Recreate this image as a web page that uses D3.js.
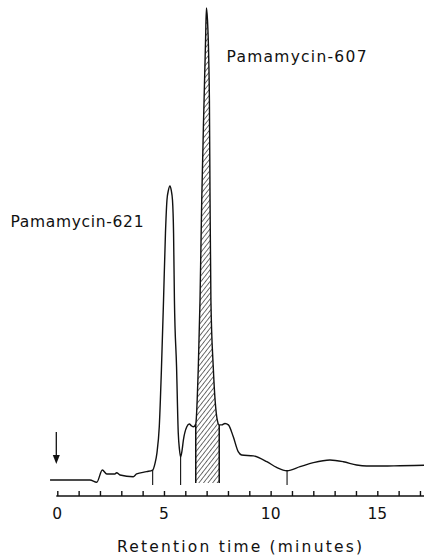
<!DOCTYPE html>
<html>
<head>
<meta charset="utf-8">
<script src="https://cdn.jsdelivr.net/npm/d3@7/dist/d3.min.js"></script>
<style>
  html, body { margin: 0; padding: 0; background: #fff; }
  svg { display: block; }
  text { font-family: "DejaVu Sans", sans-serif; fill: #111; }
</style>
</head>
<body>
<div id="chart"></div>
<script>
// Retention time (minutes) and detector signal (relative units, 0-100)
const times = [-0.34, 1.53, 1.85, 2.11, 2.32, 2.70, 2.78, 2.94, 3.56, 3.72, 4.19, 4.47, 4.58, 4.67, 4.78, 4.88, 4.98, 5.07, 5.14, 5.21, 5.28, 5.34, 5.40, 5.45, 5.49, 5.59, 5.67, 5.73, 5.78, 5.85, 5.91, 6.07, 6.19, 6.29, 6.38, 6.49, 6.61, 6.69, 6.77, 6.88, 6.95, 6.99, 7.04, 7.10, 7.13, 7.16, 7.20, 7.31, 7.50, 7.59, 7.71, 7.86, 8.02, 8.25, 8.48, 8.64, 9.19, 9.82, 10.28, 10.77, 11.38, 12.00, 12.78, 13.41, 14.03, 14.50, 15.28, 16.06, 17.19];
const signal = [1.05, 1.05, 0.57, 3.14, 2.31, 2.31, 2.58, 2.10, 1.74, 2.31, 2.79, 3.14, 4.55, 6.7, 12.2, 24.1, 38.8, 52.8, 59.7, 61.8, 62.7, 61.8, 59.7, 52.8, 38.8, 24.8, 10.9, 7.3, 5.87, 7.3, 9.4, 12.2, 12.8, 12.4, 12.2, 12.8, 24.8, 38.8, 59.7, 80.7, 93.3, 100, 97.5, 89.1, 80.7, 59.7, 38.8, 24.8, 13.6, 12.6, 12.6, 12.9, 12.6, 10.1, 7.0, 6.3, 6.1, 4.9, 3.7, 3.0, 3.84, 4.68, 5.24, 4.88, 4.19, 3.98, 3.98, 4.05, 4.13];
const dropTimes = [4.47, 5.78, 10.77];
const hatchRange = [6.49, 7.59];
const tickValues = d3.range(0, 18, 1);
const labelValues = [0, 5, 10, 15];
const peakLabels = [
  { name: "Pamamycin-621" },
  { name: "Pamamycin-607" }
];
const xTitle = "Retention time (minutes)";

const W = 424, H = 559;
const x = d3.scaleLinear().domain([0, 15]).range([57.3, 377.3]);
const y = d3.scaleLinear().domain([0, 100]).range([485, 8]);

const svg = d3.select("#chart").append("svg").attr("width", W).attr("height", H);

const defs = svg.append("defs");
const pat = defs.append("pattern")
  .attr("id", "hatch").attr("patternUnits", "userSpaceOnUse")
  .attr("width", 3.6).attr("height", 10)
  .attr("patternTransform", "rotate(38)");
pat.append("line").attr("x1", 0).attr("y1", 0).attr("x2", 0).attr("y2", 10)
  .attr("stroke", "#111").attr("stroke-width", 1.2);

const pts = times.map((t, i) => ({ t, s: signal[i] }));
const curve = d3.curveMonotoneX;

// Hatched peak area
const hatchPts = pts.filter(p => p.t >= hatchRange[0] - 1e-9 && p.t <= hatchRange[1] + 1e-9);
const area = d3.area().x(d => x(d.t)).y0(y(0.4)).y1(d => y(d.s)).curve(curve);
svg.append("path").datum(hatchPts).attr("d", area).attr("fill", "url(#hatch)");
hatchRange.forEach(t => {
  const p = pts.find(q => Math.abs(q.t - t) < 1e-6);
  svg.append("line").attr("x1", x(t)).attr("x2", x(t))
    .attr("y1", y(p.s)).attr("y2", y(0.4))
    .attr("stroke", "#111").attr("stroke-width", 1.5);
});

// Drop lines
dropTimes.forEach(t => {
  const p = pts.find(q => Math.abs(q.t - t) < 1e-6);
  svg.append("line").attr("x1", x(t)).attr("x2", x(t))
    .attr("y1", y(p.s)).attr("y2", y(0))
    .attr("stroke", "#111").attr("stroke-width", 1.1);
});

// Chromatogram trace
const line = d3.line().x(d => x(d.t)).y(d => y(d.s)).curve(curve);
svg.append("path").datum(pts).attr("d", line)
  .attr("fill", "none").attr("stroke", "#111").attr("stroke-width", 1.4)
  .attr("stroke-linejoin", "round");

// Injection arrow
const ax = x(0) - 1;
svg.append("line").attr("x1", ax).attr("x2", ax).attr("y1", 432).attr("y2", 458)
  .attr("stroke", "#111").attr("stroke-width", 1.3);
svg.append("path")
  .attr("d", `M${ax - 3.5},455 L${ax + 3.5},455 L${ax},464 Z`)
  .attr("fill", "#111");

// X axis
const axisY = 496;
const axis = d3.axisTop(x).tickValues(tickValues).tickSize(5).tickFormat("");
const gAxis = svg.append("g").attr("transform", `translate(0,${axisY})`).call(axis);
gAxis.select(".domain").remove();
gAxis.selectAll(".tick line").attr("stroke", "#111").attr("stroke-width", 1.4);
svg.append("line").attr("x1", x(0) - 1).attr("x2", W).attr("y1", axisY).attr("y2", axisY)
  .attr("stroke", "#111").attr("stroke-width", 1.7);

svg.selectAll(".xlab").data(labelValues).enter().append("text")
  .attr("class", "xlab")
  .attr("x", d => x(d)).attr("y", 519)
  .attr("text-anchor", "middle").attr("font-size", 15.5)
  .text(d => d);

svg.append("text").attr("x", 117).attr("y", 551.5)
  .attr("font-size", 15.5).attr("textLength", 245).attr("lengthAdjust", "spacing")
  .text(xTitle);

// Peak labels
svg.append("text").attr("x", 10.5).attr("y", 226.5)
  .attr("font-size", 15.5).attr("textLength", 133).attr("lengthAdjust", "spacing")
  .text(peakLabels[0].name);
svg.append("text").attr("x", 226.5).attr("y", 62.3)
  .attr("font-size", 15.5).attr("textLength", 140).attr("lengthAdjust", "spacing")
  .text(peakLabels[1].name);
</script>
</body>
</html>
